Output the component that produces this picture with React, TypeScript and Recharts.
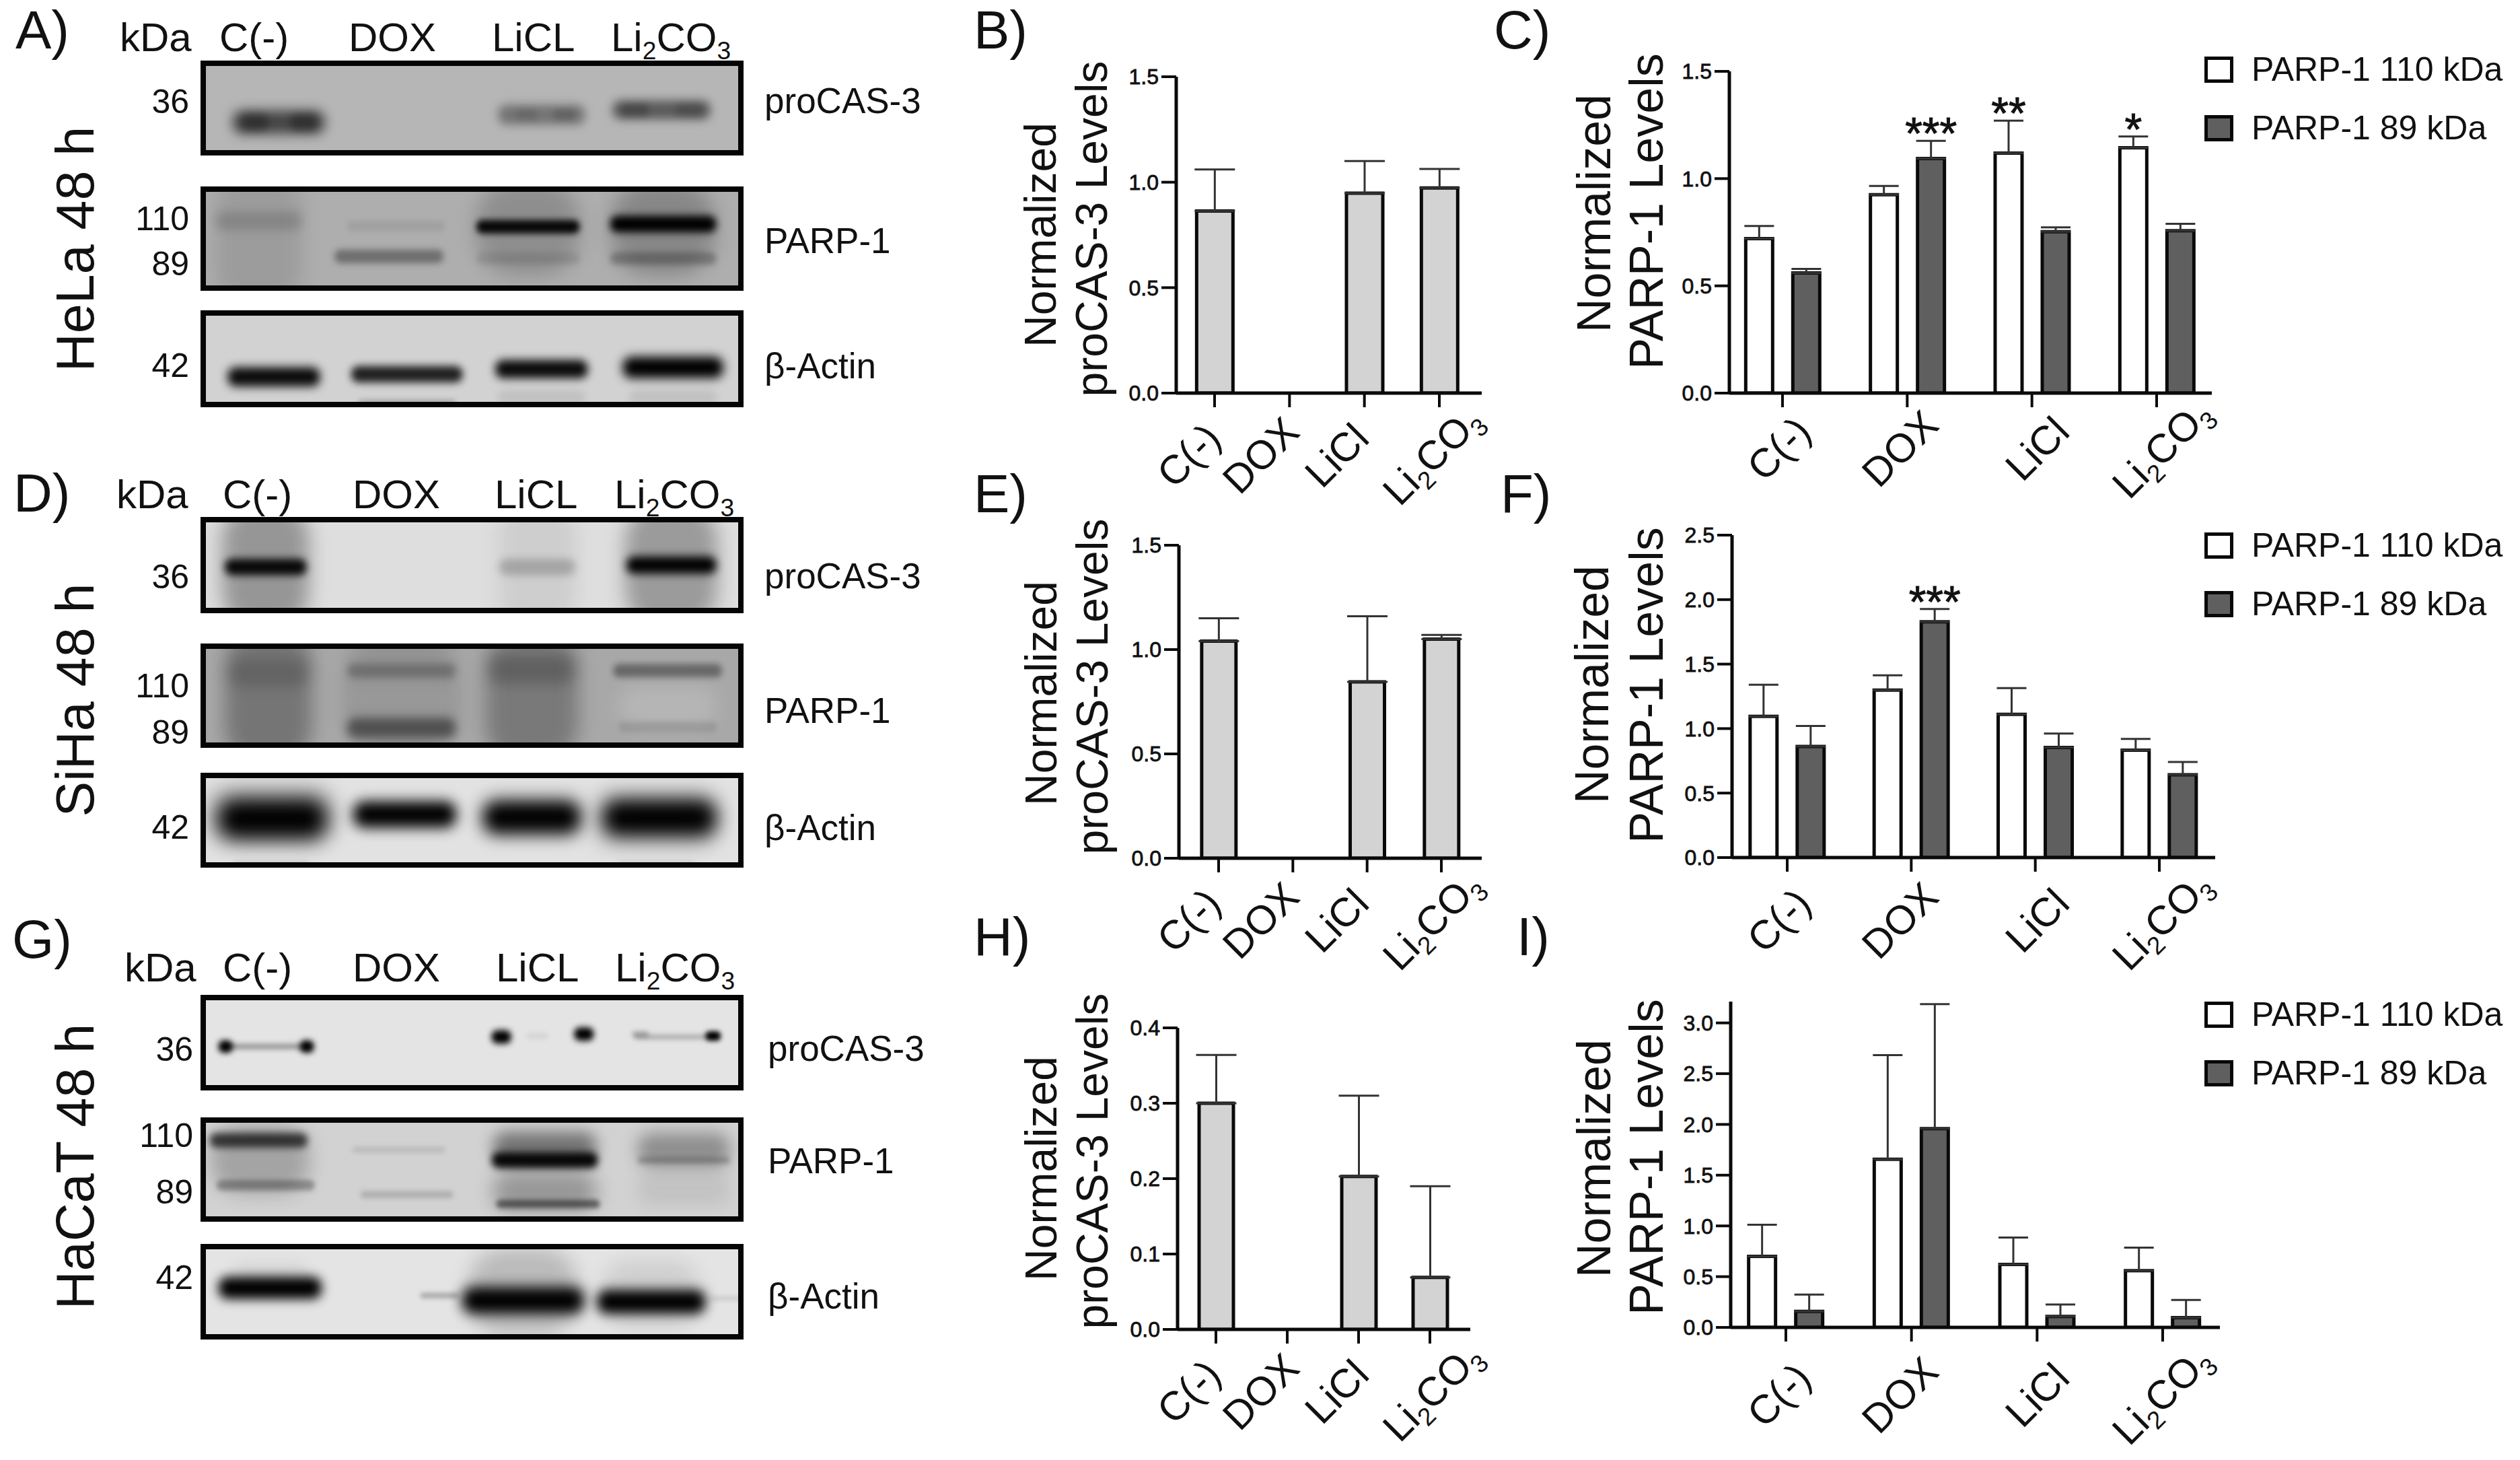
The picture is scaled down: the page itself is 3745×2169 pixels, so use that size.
import React from "react";
import {
  BarChart, Bar, XAxis, YAxis, ErrorBar, LabelList, Legend,
  ScatterChart, Scatter,
} from "recharts";

const FONT = '"Liberation Sans", Arial, sans-serif';

// ---------- chart values ----------
const categories = ["C(-)", "DOX", "LiCl", "Li2CO3"];
const seriesNames = ["PARP-1 110 kDa", "PARP-1 89 kDa"];

const bValues = [0.863, 0, 0.948, 0.973];
const bTops = [1.06, 0, 1.1, 1.063];
const eValues = [1.04, 0, 0.845, 1.05];
const eTops = [1.15, 0, 1.16, 1.07];
const hValues = [0.3, 0, 0.203, 0.069];
const hTops = [0.364, 0, 0.31, 0.19];

const c110 = [0.72, 0.925, 1.119, 1.144];
const c110Tops = [0.779, 0.966, 1.27, 1.196];
const c89 = [0.56, 1.094, 0.752, 0.757];
const c89Tops = [0.579, 1.176, 0.773, 0.789];
const c110Stars = ["", "", "**", "*"];
const c89Stars = ["", "***", "", ""];

const f110 = [1.095, 1.298, 1.111, 0.832];
const f110Tops = [1.34, 1.413, 1.314, 0.92];
const f89 = [0.861, 1.828, 0.853, 0.642];
const f89Tops = [1.02, 1.927, 0.962, 0.741];
const f110Stars = ["", "", "", ""];
const f89Stars = ["", "***", "", ""];

const i110 = [0.7, 1.656, 0.62, 0.558];
const i110Tops = [1.011, 2.683, 0.885, 0.786];
const i89 = [0.157, 1.958, 0.108, 0.096];
const i89Tops = [0.324, 3.185, 0.225, 0.271];
const noStars = ["", "", "", ""];

const ticks15 = [0, 0.5, 1, 1.5];
const ticks25 = [0, 0.5, 1, 1.5, 2, 2.5];
const ticks04 = [0, 0.1, 0.2, 0.3, 0.4];
const ticks30 = [0, 0.5, 1, 1.5, 2, 2.5, 3];

const oneSeries = (vals: number[], tops: number[]) =>
  categories.map((cat, i) => ({ cat, a: vals[i], aErr: [0, tops[i] - vals[i]] }));

const twoSeries = (
  a: number[], aT: number[], aS: string[],
  b: number[], bT: number[], bS: string[],
) =>
  categories.map((cat, i) => ({
    cat,
    a: a[i], aErr: [0, aT[i] - a[i]], aStar: aS[i],
    b: b[i], bErr: [0, bT[i] - b[i]], bStar: bS[i],
  }));

// ---------- blot band readings: lane x, migration y, extent w/h (percent of panel), density d ----------
type Band = { x: number; y: number; w: number; h: number; d: number };
const b = (x: number, y: number, w: number, h: number, d: number): Band => ({ x, y, w, h, d });

const aCas = [
  b(14.4, 65, 17, 25, 0.62), b(10, 65, 5, 18, 0.3), b(19, 65, 5, 18, 0.3),
  b(62.8, 57, 16, 21, 0.36), b(60, 57, 4, 12, 0.1), b(67, 57, 4, 12, 0.15),
  b(84.9, 52, 18, 20, 0.5), b(80, 52, 5, 14, 0.2), b(90, 52, 5, 14, 0.15),
];
const aParp = [
  b(10.7, 50, 16, 130, 0.1), b(10.7, 33, 16, 18, 0.14),
  b(36, 38, 18, 10, 0.07), b(34.7, 67, 20, 13, 0.36),
  b(60.3, 40, 19, 90, 0.18), b(60.3, 38.6, 19, 13, 0.95), b(60.3, 69, 19, 11, 0.1),
  b(85.2, 40, 19, 90, 0.22), b(85.2, 36, 19.5, 16, 1), b(85.2, 69, 19.5, 12, 0.25),
];
const aActin = [
  b(13.5, 68.7, 17, 20, 0.95), b(38, 66, 20.5, 17, 0.85), b(62.8, 60.7, 17, 19, 0.95), b(87, 59, 18.5, 22, 1),
  b(38, 96, 18, 8, 0.2), b(62.8, 90, 16, 15, 0.08), b(87, 90, 16, 15, 0.08),
];

const dCas = [
  b(12, 50, 16, 130, 0.32), b(12, 52, 15, 17, 0.95),
  b(62, 52, 14, 17, 0.2), b(62, 50, 14, 130, 0.07),
  b(86.7, 50, 17, 130, 0.3), b(86.7, 50, 16.5, 18, 1),
];
const dParp = [
  b(12.5, 50, 16, 130, 0.3), b(12.5, 28, 15, 26, 0.15),
  b(37, 50, 21, 130, 0.12), b(37, 26, 20, 14, 0.24), b(37, 81, 20, 19, 0.45), b(37, 52, 19, 30, -0.05),
  b(61, 50, 17, 130, 0.28), b(61, 25, 16, 26, 0.2),
  b(86, 26, 20, 13, 0.38), b(86, 60, 18, 40, -0.16), b(86, 80, 18, 10, 0.1),
];
const dActin = [
  b(13.2, 48.5, 20, 42, 1), b(37.6, 44, 19, 28, 1), b(61, 47, 18, 35, 1), b(84.5, 47.6, 21, 39, 1),
  b(13, 45, 24, 65, 0.18), b(61, 45, 20, 50, 0.08), b(84, 48, 24, 65, 0.12), b(13, 96, 14, 4, 0.15), b(84, 96, 14, 4, 0.12),
];

const gCas = [
  b(4.6, 54, 2.6, 13, 1), b(19.6, 54, 2.6, 13, 1), b(12.1, 54, 15, 6, 0.32),
  b(55.4, 44, 3.6, 14, 1), b(70.6, 41, 3.6, 14, 1), b(62, 43, 4, 5, 0.08),
  b(94.4, 43, 2.8, 10, 1), b(86.9, 44, 14, 5, 0.25), b(81, 41, 3, 6, 0.25),
];
const gParp = [
  b(10.7, 22, 18, 14, 0.7), b(11, 40, 18, 65, 0.22), b(12, 65, 18, 10, 0.3),
  b(36.5, 31, 17, 5, 0.12), b(38, 74, 17, 7, 0.16),
  b(63.4, 29, 19, 30, 0.45), b(63.4, 41, 19.5, 15, 0.95), b(63.4, 71, 19, 38, 0.28), b(64, 83, 19, 8, 0.5),
  b(89, 31, 17, 32, 0.32), b(89, 41, 17, 7, 0.2), b(89, 68, 17, 32, 0.07),
];
const gActin = [
  b(12.8, 46, 19, 23, 1), b(59.4, 59, 22.5, 28, 1), b(83, 60.5, 20, 25, 1), b(44, 54, 7, 5, 0.3),
  b(59.4, 50, 20, 90, 0.18), b(83, 52, 18, 70, 0.09), b(12.8, 35, 14, 30, 0.06), b(97, 57, 6, 4, 0.12),
];

// ---------- blot panel ----------
function BandShape(props: any) {
  const { cx, cy, payload, panelW, panelH } = props;
  const w = (payload.w / 100) * panelW;
  const h = (payload.h / 100) * panelH;
  const blur = Math.min(14, Math.max(3.5, Math.min(w, h) * 0.24));
  return (
    <rect
      x={cx - w / 2}
      y={cy - h / 2}
      width={w}
      height={h}
      rx={Math.min(w, h) / 2.4}
      fill={payload.d < 0 ? "#fff" : "#000"}
      fillOpacity={Math.abs(payload.d)}
      style={{ filter: `blur(${blur}px)` }}
    />
  );
}

function Blot({ top, bottom, bg, bands }: { top: number; bottom: number; bg: string; bands: Band[] }) {
  const left = 298;
  const W = 807;
  const H = bottom - top;
  return (
    <div
      style={{
        position: "absolute", left, top, width: W, height: H, boxSizing: "border-box",
        background: bg, overflow: "hidden",
      }}
    >
      <ScatterChart width={W} height={H} margin={{ top: 0, right: 0, bottom: 0, left: 0 }}>
        <XAxis type="number" dataKey="x" domain={[0, 100]} hide />
        <YAxis type="number" dataKey="y" domain={[0, 100]} reversed hide width={0} />
        <Scatter
          data={bands}
          isAnimationActive={false}
          shape={(p: any) => <BandShape {...p} panelW={W} panelH={H} />}
        />
      </ScatterChart>
      <div style={{ position: "absolute", inset: 0, border: "8px solid #050505", boxSizing: "border-box" }} />
    </div>
  );
}

// ---------- helpers ----------
function Chem({ text, size }: { text: string; size: number }) {
  const parts = text.split(/(\d)/).filter(Boolean);
  const sub = size * 0.62;
  const drop = size * 0.2;
  let lowered = false;
  return (
    <>
      {parts.map((p, i) => {
        const isSub = /^\d$/.test(p);
        const dy = isSub ? drop : lowered ? -drop : 0;
        lowered = isSub;
        return (
          <tspan key={i} dy={dy} fontSize={isSub ? sub : size}>
            {p}
          </tspan>
        );
      })}
    </>
  );
}

type PanelProps = {
  L: number; R: number; top: number; y0: number; max: number; ticks: number[];
  t1: number; t4: number; data: any[]; two?: boolean; barSize: number; barGap?: number;
  cap: number; labelCx: number[]; labelDy: number; legendTop?: number;
};

const fills = ["#ffffff", "#5f5f5f"];

function Panel(p: PanelProps) {
  const divLeft = p.L - 110;
  const divTop = p.top - 20;
  const xH = 190;
  const plotH = p.y0 - p.top;
  const width = p.legendTop != null ? 3745 - divLeft : p.R - divLeft + 200;
  const height = plotH + 20 + xH;
  const s = (p.t4 - p.t1) / 3;
  const padL = p.t1 - s / 2 - p.L;
  const padR = p.R - (p.t4 + s / 2);
  const unit = plotH / p.max;

  const xTick = (t: any) => {
    const cx = p.labelCx[t.index] - divLeft;
    const cy = p.y0 + p.labelDy - divTop;
    return (
      <text
        transform={`rotate(-45 ${cx} ${cy})`}
        x={cx}
        y={cy + 20}
        textAnchor="middle"
        fontFamily={FONT}
        fontSize={60}
        fill="#111"
      >
        <Chem text={t.payload.value} size={60} />
      </text>
    );
  };

  const starLabel = (errKey: string) => (l: any) => {
    if (!l.value) return null;
    const row = p.data[l.index];
    const py = l.y - row[errKey][1] * unit + 12;
    return (
      <text x={l.x + l.width / 2} y={py} textAnchor="middle" fontFamily={FONT} fontSize={66} fill="#111" stroke="#111" strokeWidth={1}>
        {l.value}
      </text>
    );
  };

  const legendContent = () => (
    <svg width={470} height={140} style={{ display: "block", overflow: "visible" }}>
      {seriesNames.map((n, i) => (
        <g key={n}>
          <rect x={2.5} y={2.5 + i * 87} width={38} height={34} fill={fills[i]} stroke="#080808" strokeWidth={5} />
          <text x={70} y={36 + i * 87} fontFamily={FONT} fontSize={50} fill="#111">
            {n}
          </text>
        </g>
      ))}
    </svg>
  );

  return (
    <div style={{ position: "absolute", left: divLeft, top: divTop, width, height }}>
      <BarChart
        width={width}
        height={height}
        data={p.data}
        barSize={p.barSize}
        barGap={p.barGap ?? 0}
        margin={{ top: 20, left: 0, bottom: 0, right: width - 110 - (p.R - p.L) }}
      >
        <XAxis
          dataKey="cat"
          height={xH}
          interval={0}
          padding={{ left: padL, right: padR }}
          tickSize={21}
          tick={xTick}
          axisLine={{ stroke: "#0a0a0a", strokeWidth: 5 }}
          tickLine={{ stroke: "#0a0a0a", strokeWidth: 4 }}
        />
        <YAxis
          width={110}
          type="number"
          domain={[0, p.max]}
          ticks={p.ticks}
          interval={0}
          allowDataOverflow
          tickSize={22}
          tickMargin={4}
          tickFormatter={(v: number) => v.toFixed(1)}
          tick={{ fontFamily: FONT, fontSize: 32, fill: "#111", stroke: "#111", strokeWidth: 0.8 }}
          axisLine={{ stroke: "#0a0a0a", strokeWidth: 5 }}
          tickLine={{ stroke: "#0a0a0a", strokeWidth: 4 }}
        />
        <Bar
          dataKey="a"
          name={p.two ? seriesNames[0] : "Levels"}
          fill={p.two ? fills[0] : "#d3d3d3"}
          stroke="#0a0a0a"
          strokeWidth={5}
          isAnimationActive={false}
        >
          <ErrorBar dataKey="aErr" direction="y" width={p.cap} stroke="#333" strokeWidth={3} isAnimationActive={false} />
          {p.two && <LabelList dataKey="aStar" content={starLabel("aErr")} />}
        </Bar>
        {p.two && (
          <Bar
            dataKey="b"
            name={seriesNames[1]}
            fill={fills[1]}
            stroke="#0a0a0a"
            strokeWidth={5}
            isAnimationActive={false}
          >
            <ErrorBar dataKey="bErr" direction="y" width={p.cap} stroke="#333" strokeWidth={3} isAnimationActive={false} />
            <LabelList dataKey="bStar" content={starLabel("bErr")} />
          </Bar>
        )}
        {p.legendTop != null && (
          <Legend
            layout="vertical"
            align="center"
            verticalAlign="middle"
            content={legendContent}
            wrapperStyle={{ left: 3276 - divLeft, top: p.legendTop - divTop, width: 470, height: 140, margin: 0 }}
          />
        )}
      </BarChart>
    </div>
  );
}

// ---------- page text ----------
const T = (x: number, y: number, s: string, size: number) => (
  <text key={`${s}-${x}-${y}`} x={x} y={y} fontSize={size} fill="#111" fontFamily={FONT}>
    <Chem text={s} size={size} />
  </text>
);
const N = (x: number, y: number, s: string) => (
  <text key={`${s}-${x}-${y}`} x={x} y={y} fontSize={50} textAnchor="end" fill="#111" fontFamily={FONT}>
    {s}
  </text>
);
const V = (x: number, cy: number, s: string, size: number) => (
  <text
    key={`${s}-${x}-${cy}`}
    transform={`translate(${x} ${cy}) rotate(-90)`}
    fontSize={size}
    textAnchor="middle"
    fill="#111"
    fontFamily={FONT}
  >
    {s}
  </text>
);
const Lbl = (x: number, y: number, s: string) => (
  <text key={s} x={x} y={y} fontSize={80} fill="#111" fontFamily={FONT}>
    {s}
  </text>
);

const blotHead = (xs: number[], y: number) => [
  T(xs[0], y, "kDa", 60), T(xs[1], y, "C(-)", 60), T(xs[2], y, "DOX", 60), T(xs[3], y, "LiCL", 60), T(xs[4], y, "Li2CO3", 60),
];

const casCx = [1767, 1874, 1987, 2129];
const parpCx = [2644, 2824, 3028, 3213];

export default function App() {
  return (
    <div style={{ position: "absolute", left: 0, top: 0, width: 3745, height: 2169, background: "#fff", overflow: "hidden" }}>
      <Blot top={90} bottom={231} bg="#b6b6b6" bands={aCas} />
      <Blot top={277} bottom={432} bg="#aeaeae" bands={aParp} />
      <Blot top={461} bottom={605} bg="#d2d2d2" bands={aActin} />
      <Blot top={768} bottom={911} bg="#dedede" bands={dCas} />
      <Blot top={956} bottom={1111} bg="#a8a8a8" bands={dParp} />
      <Blot top={1148} bottom={1289} bg="#e2e2e2" bands={dActin} />
      <Blot top={1478} bottom={1620} bg="#e4e4e4" bands={gCas} />
      <Blot top={1660} bottom={1815} bg="#d2d2d2" bands={gParp} />
      <Blot top={1848} bottom={1990} bg="#e4e4e4" bands={gActin} />

      <Panel L={1748} R={2202} top={114} y0={584} max={1.5} ticks={ticks15} t1={1805} t4={2139}
        data={oneSeries(bValues, bTops)} barSize={54} cap={30} labelCx={casCx} labelDy={93} />
      <Panel L={1752} R={2202} top={810} y0={1275} max={1.5} ticks={ticks15} t1={1811} t4={2142}
        data={oneSeries(eValues, eTops)} barSize={51} cap={30} labelCx={casCx} labelDy={93} />
      <Panel L={1750} R={2185} top={1527} y0={1975} max={0.4} ticks={ticks04} t1={1807} t4={2125}
        data={oneSeries(hValues, hTops)} barSize={51} cap={30} labelCx={casCx} labelDy={93} />

      <Panel two L={2570} R={3287} top={106} y0={584} max={1.5} ticks={ticks15} t1={2649} t4={3205}
        data={twoSeries(c110, c110Tops, c110Stars, c89, c89Tops, c89Stars)}
        barSize={40} barGap={30} cap={22} labelCx={parpCx} labelDy={83} legendTop={84} />
      <Panel two L={2574} R={3292} top={795} y0={1274} max={2.5} ticks={ticks25} t1={2656} t4={3209}
        data={twoSeries(f110, f110Tops, f110Stars, f89, f89Tops, f89Stars)}
        barSize={40} barGap={30} cap={22} labelCx={parpCx} labelDy={94} legendTop={791} />
      <Panel two L={2572} R={3299} top={1488} y0={1972} max={3.21} ticks={ticks30} t1={2654} t4={3214}
        data={twoSeries(i110, i110Tops, noStars, i89, i89Tops, noStars)}
        barSize={40} barGap={30} cap={22} labelCx={parpCx} labelDy={101} legendTop={1488} />

      <svg width={3745} height={2169} style={{ position: "absolute", left: 0, top: 0, pointerEvents: "none" }}>
        {Lbl(23, 72, "A)")}{Lbl(1447, 72, "B)")}{Lbl(2220, 72, "C)")}
        {Lbl(20, 760, "D)")}{Lbl(1447, 761, "E)")}{Lbl(2230, 761, "F)")}
        {Lbl(18, 1423, "G)")}{Lbl(1447, 1419, "H)")}{Lbl(2254, 1419, "I)")}

        {V(139, 370, "HeLa 48 h", 79)}{V(139, 1040, "SiHa 48 h", 79)}{V(139, 1733, "HaCaT 48 h", 79)}

        {blotHead([178, 326, 518, 731, 908], 76)}
        {blotHead([173, 331, 524, 735, 913], 755)}
        {blotHead([185, 331, 524, 737, 914], 1458)}

        {N(281, 168, "36")}{N(281, 342, "110")}{N(281, 409, "89")}{N(281, 560, "42")}
        {N(281, 874, "36")}{N(281, 1036, "110")}{N(281, 1105, "89")}{N(281, 1246, "42")}
        {N(287, 1576, "36")}{N(287, 1704, "110")}{N(287, 1788, "89")}{N(287, 1915, "42")}

        <text x={1136} y={168} fontSize={53} fill="#111" fontFamily={FONT}>proCAS-3</text>
        <text x={1136} y={376} fontSize={53} fill="#111" fontFamily={FONT}>PARP-1</text>
        <text x={1136} y={562} fontSize={53} fill="#111" fontFamily={FONT}>β-Actin</text>
        <text x={1136} y={874} fontSize={53} fill="#111" fontFamily={FONT}>proCAS-3</text>
        <text x={1136} y={1074} fontSize={53} fill="#111" fontFamily={FONT}>PARP-1</text>
        <text x={1136} y={1248} fontSize={53} fill="#111" fontFamily={FONT}>β-Actin</text>
        <text x={1141} y={1576} fontSize={53} fill="#111" fontFamily={FONT}>proCAS-3</text>
        <text x={1141} y={1743} fontSize={53} fill="#111" fontFamily={FONT}>PARP-1</text>
        <text x={1141} y={1944} fontSize={53} fill="#111" fontFamily={FONT}>β-Actin</text>

        {V(1569, 349, "Normalized", 66)}{V(1645, 340, "proCAS-3 Levels", 66)}
        {V(1570, 1030, "Normalized", 66)}{V(1646, 1020, "proCAS-3 Levels", 66)}
        {V(1570, 1736, "Normalized", 66)}{V(1646, 1725, "proCAS-3 Levels", 66)}

        {V(2393, 317, "Normalized", 70)}{V(2471, 314, "PARP-1 Levels", 70)}
        {V(2390, 1017, "Normalized", 70)}{V(2471, 1018, "PARP-1 Levels", 70)}
        {V(2393, 1721, "Normalized", 70)}{V(2471, 1719, "PARP-1 Levels", 70)}
      </svg>
    </div>
  );
}
